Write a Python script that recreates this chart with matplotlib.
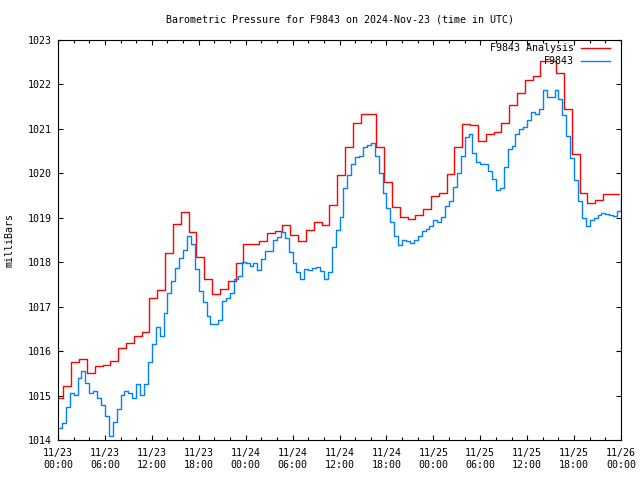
import numpy as np
import matplotlib
matplotlib.use("Agg")
import matplotlib.pyplot as plt

# hourly analysis values (mb), each one held from about hh-0.3 to hh+0.7
analysis_mb = [
    1014.94, 1015.22, 1015.75, 1015.82, 1015.51, 1015.66, 1015.69, 1015.77,
    1016.06, 1016.19, 1016.34, 1016.42, 1017.19, 1017.38, 1018.20, 1018.85,
    1019.12, 1018.67, 1018.11, 1017.62, 1017.28, 1017.40, 1017.58, 1017.99,
    1018.40, 1018.40, 1018.47, 1018.66, 1018.70, 1018.83, 1018.61, 1018.47,
    1018.72, 1018.90, 1018.83, 1019.29, 1019.96, 1020.59, 1021.13, 1021.34,
    1021.33, 1020.59, 1019.80, 1019.24, 1019.01, 1018.97, 1019.06, 1019.20,
    1019.49, 1019.56, 1019.99, 1020.59, 1021.10, 1021.08, 1020.73, 1020.88,
    1020.92, 1021.13, 1021.54, 1021.80, 1022.10, 1022.19, 1022.52, 1022.53,
    1022.25, 1021.44, 1020.43, 1019.55, 1019.33, 1019.39, 1019.53, 1019.53,
]

# station readings (mb), every half hour from 11/23 00:00 to 11/26 00:00
station_mb = [
    1014.28, 1014.38, 1014.75, 1015.05, 1015.02, 1015.40, 1015.55, 1015.28,
    1015.05, 1015.10, 1014.95, 1014.78, 1014.55, 1014.08, 1014.40, 1014.69,
    1015.02, 1015.10, 1015.05, 1014.95, 1015.25, 1015.02, 1015.25, 1015.75,
    1016.15, 1016.55, 1016.35, 1016.85, 1017.30, 1017.58, 1017.88, 1018.10,
    1018.28, 1018.58, 1018.42, 1017.85, 1017.36, 1017.10, 1016.78, 1016.61,
    1016.62, 1016.70, 1017.12, 1017.20, 1017.30, 1017.62, 1017.70, 1018.00,
    1017.98, 1017.92, 1017.98, 1017.82, 1018.08, 1018.25, 1018.25, 1018.50,
    1018.56, 1018.68, 1018.55, 1018.22, 1017.98, 1017.77, 1017.62, 1017.85,
    1017.82, 1017.87, 1017.90, 1017.80, 1017.62, 1017.78, 1018.35, 1018.72,
    1019.01, 1019.68, 1019.96, 1020.22, 1020.36, 1020.40, 1020.60, 1020.63,
    1020.68, 1020.38, 1020.00, 1019.55, 1019.22, 1018.90, 1018.60, 1018.38,
    1018.50, 1018.47, 1018.43, 1018.50, 1018.58, 1018.70, 1018.74, 1018.82,
    1018.96, 1018.90, 1019.02, 1019.27, 1019.38, 1019.70, 1020.00, 1020.40,
    1020.82, 1020.88, 1020.45, 1020.25, 1020.21, 1020.20, 1020.06, 1019.88,
    1019.62, 1019.68, 1020.15, 1020.55, 1020.62, 1020.88, 1021.00, 1021.05,
    1021.20, 1021.38, 1021.33, 1021.45, 1021.88, 1021.72, 1021.72, 1021.88,
    1021.68, 1021.32, 1020.85, 1020.35, 1019.85, 1019.38, 1019.00, 1018.82,
    1018.95, 1019.00, 1019.06, 1019.10, 1019.08, 1019.06, 1019.03, 1019.15,
    1019.45,
]

tick_labels = [
    "11/23\n00:00", "11/23\n06:00", "11/23\n12:00", "11/23\n18:00",
    "11/24\n00:00", "11/24\n06:00", "11/24\n12:00", "11/24\n18:00",
    "11/25\n00:00", "11/25\n06:00", "11/25\n12:00", "11/25\n18:00",
    "11/26\n00:00",
]

plt.rcParams["font.family"] = "DejaVu Sans Mono"
plt.rcParams["font.size"] = 7.2

# time axis in hours since 11/23 00:00
a_hours = np.concatenate([[0.0], np.arange(1, len(analysis_mb)) - 0.3, [len(analysis_mb) - 0.3]])
a_vals = analysis_mb + [analysis_mb[-1]]
s_hours = np.arange(len(station_mb)) * 0.5

fig = plt.figure(figsize=(6.4, 4.8), dpi=100)
ax = fig.add_axes([58 / 640, 40 / 480, 563 / 640, 400 / 480])

ax.step(a_hours, a_vals, where="post", color="#ff0000", lw=1.0, label="F9843 Analysis")
ax.step(s_hours, station_mb, where="post", color="#0080ff", lw=1.0, label="F9843")

ax.set_xlim(0, 72)
ax.set_ylim(1014, 1023)
ax.set_xticks(np.arange(0, 73, 6))
ax.set_xticklabels(tick_labels)
ax.set_xticks(np.arange(0, 73, 2), minor=True)
ax.set_yticks(np.arange(1014, 1024, 1))
ax.tick_params(which="both", direction="in", top=True, right=True, width=0.8)
ax.tick_params(which="major", length=3.3)
ax.tick_params(which="minor", length=2.2)
ax.tick_params(axis="y", pad=4.3)
ax.tick_params(axis="x", pad=6)
for sp in ax.spines.values():
    sp.set_linewidth(0.8)

leg = ax.legend(loc="upper right", bbox_to_anchor=(610 / 640, 1 - 43 / 480),
                bbox_transform=fig.transFigure, frameon=False, markerfirst=False,
                borderpad=0, borderaxespad=0, handlelength=2.9, handletextpad=0.7,
                labelspacing=0.3)

fig.text(339.5 / 640, 1 - 20 / 480, "Barometric Pressure for F9843 on 2024-Nov-23 (time in UTC)",
         ha="center", va="center")
fig.text(10 / 640, 0.5, "milliBars", rotation=90, ha="center", va="center")

fig.savefig("out.png", dpi=100)
